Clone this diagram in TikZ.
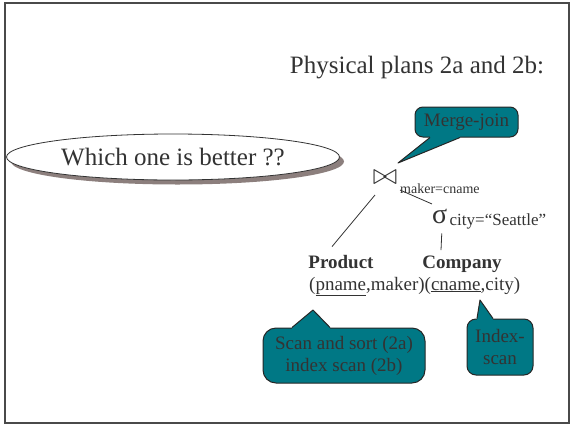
\documentclass[tikz,border=0pt]{standalone}
\usepackage{fontspec}
\setmainfont{Liberation Serif}
\usetikzlibrary{calc,shapes.geometric,shadows}
\definecolor{ink}{HTML}{333333}
\definecolor{framegray}{HTML}{4A4A4A}
\definecolor{callteal}{RGB}{0,120,133}
\definecolor{shadebrown}{HTML}{8C7F7D}
\begin{document}
\begin{tikzpicture}[x=1pt,y=-1pt,
  every node/.style={text=ink,inner sep=0pt},
  edge/.style={draw=ink,line width=0.8pt},
  frameline/.style={draw=framegray,line width=2.5pt},
  callbox/.style={draw=black!85,line width=1pt,fill=callteal,align=center,
    font=\fontsize{19}{22}\selectfont},
  callline/.style={draw=black!85,line width=1pt,line join=round},
  bigtext/.style={font=\fontsize{25}{30}\selectfont},
  reltext/.style={font=\fontsize{19}{22}\selectfont}]
\useasboundingbox (0,0) rectangle (573,426);
\draw[frameline] (5,3) rectangle (569,423);

% heading
\node[bigtext,anchor=base] (title) at (417,73) {Physical plans 2a and 2b:};

% question bubble with drop shadow
\node[ellipse,draw=ink,line width=0.8pt,fill=white,minimum width=333,minimum height=46,
  bigtext,drop shadow={shadow xshift=4.5pt,shadow yshift=-4.5pt,fill=shadebrown,opacity=1}]
  (question) at (173,157) {Which one is better ??};

% plan tree
\node[scale=1.2] (join) at (385,178) {\fontsize{24.88}{25}\selectfont$\bowtie$};
\node[anchor=base west,font=\fontsize{14}{14}\selectfont] (jcond) at (400,193) {maker=cname};
\node[anchor=base west,font=\fontsize{28}{28}\selectfont] (sel) at (432,223) {σ};
\node[anchor=base west,font=\fontsize{17}{17}\selectfont] (selcond) at ($(sel.base east)+(2,2)$) {city=“Seattle”};
\node[anchor=base,font=\bfseries\fontsize{19}{19}\selectfont] (prod) at (341,268) {Product};
\node[anchor=base,font=\bfseries\fontsize{19}{19}\selectfont] (comp) at (462,268) {Company};
\node[reltext,anchor=base west] (attrs) at (309,290) {(\underline{pname},maker)(\underline{cname},city)};

\draw[edge] ($(join)+(-10,17)$) -- ($(prod.north)+(-9,-8)$);
\draw[edge] ($(join)+(15,12)$) -- ($(sel.west)+(0,-12)$);
\draw[edge] ($(sel.south)+(2,10)$) -- ($(comp.north)+(-21,-5)$);

% callouts
\node[callbox,rounded corners=8pt,minimum width=103,minimum height=30] (mj) at (466.5,122) {Merge-join};
\coordinate (mjtip) at ($(join)+(13,-15)$);
\fill[callteal] ($(mj.south)+(-36.5,0)$) -- (mjtip) -- ($(mj.south)+(-6.5,0)$) -- ++(0,-2) -- ($(mj.south)+(-36.5,-2)$) -- cycle;
\draw[callline] ($(mj.south)+(-36.5,0)$) -- (mjtip) -- ($(mj.south)+(-6.5,0)$);

\node[callbox,rounded corners=13pt,minimum width=162,minimum height=55] (scan) at (344,355.5) {Scan and sort (2a)\\index scan (2b)};
\coordinate (scantip) at ($(attrs.base west)+(4,20)$);
\fill[callteal] ($(scan.north)+(-52,0)$) -- (scantip) -- ($(scan.north)+(-14,0)$) -- ++(0,2) -- ($(scan.north)+(-52,2)$) -- cycle;
\draw[callline] ($(scan.north)+(-52,0)$) -- (scantip) -- ($(scan.north)+(-14,0)$);

\node[callbox,rounded corners=9pt,minimum width=66,minimum height=56] (iscan) at (500,347) {Index-\\scan};
\coordinate (iscantip) at ($(attrs.base west)+(171,10)$);
\fill[callteal] ($(iscan.north)+(-23,0)$) -- (iscantip) -- ($(iscan.north)+(-7,0)$) -- ++(0,2) -- ($(iscan.north)+(-23,2)$) -- cycle;
\draw[callline] ($(iscan.north)+(-23,0)$) -- (iscantip) -- ($(iscan.north)+(-7,0)$);
\end{tikzpicture}
\end{document}
